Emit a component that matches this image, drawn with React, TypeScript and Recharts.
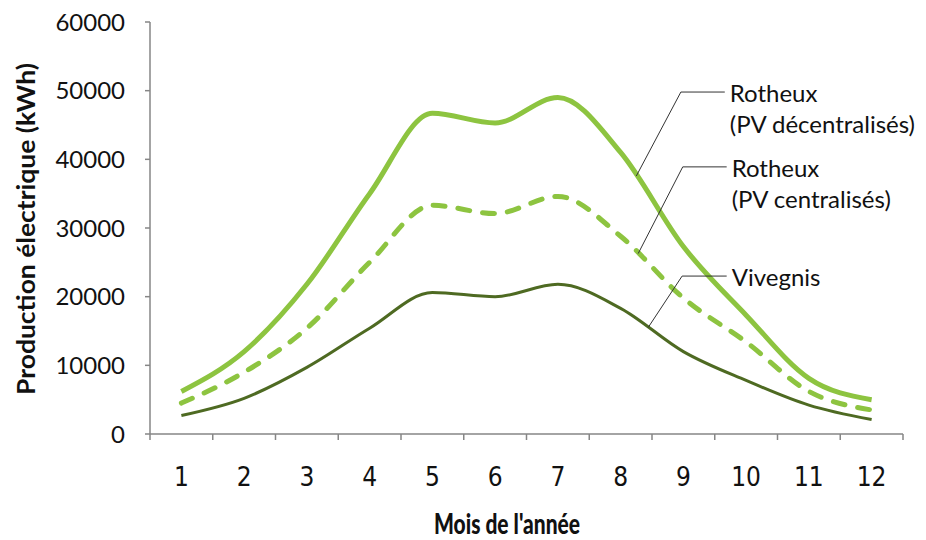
import { ComposedChart, Label, Line, ReferenceLine, XAxis, YAxis } from "recharts";

// Monthly electricity production (kWh)
const months = [1, 2, 3, 4, 5, 6, 7, 8, 9, 10, 11, 12];
const rotheuxDecentralises = [6200, 12000, 21800, 35000, 46700, 45300, 49000, 41000, 27300, 17300, 8100, 5000];
const rotheuxCentralises = [4500, 9000, 15400, 25000, 33300, 32100, 34600, 28800, 19800, 13400, 6200, 3500];
const vivegnis = [2700, 5200, 9700, 15400, 20600, 20000, 21800, 18300, 12000, 7800, 4200, 2100];
const yTicks = [0, 10000, 20000, 30000, 40000, 50000, 60000];

const data = months.map((month, i) => ({
  month,
  decentralises: rotheuxDecentralises[i],
  centralises: rotheuxCentralises[i],
  vivegnis: vivegnis[i],
}));

// x ticks: month labels at integers, separators at half months
const xTicks = [0.5, ...months.flatMap((m) => [m, m + 0.5])];

// callouts: label text, where the leader meets the curve, elbow and label row
const callouts = [
  { lines: ["Rotheux", "(PV décentralisés)"], series: rotheuxDecentralises, tip: 8.25, elbow: 8.96, end: 9.66, row: 49800 },
  { lines: ["Rotheux", "(PV centralisés)"], series: rotheuxCentralises, tip: 8.28, elbow: 8.99, end: 9.69, row: 38900 },
  { lines: ["Vivegnis"], series: vivegnis, tip: 8.44, elbow: 8.98, end: 9.69, row: 23000 },
];

const valueAt = (series: number[], m: number) => {
  const i = Math.floor(m) - 1;
  const t = m - Math.floor(m);
  return series[i] + (series[i + 1] - series[i]) * t;
};

const AXIS = "#868686";
const LIGHT = "#8dc440";
const DARK = "#4e6a22";
const FONT = "Lato, 'Open Sans', sans-serif";
const NARROW = "'Liberation Sans Narrow', 'DejaVu Sans Condensed', sans-serif";

function MonthTick({ x, y, payload }: any) {
  const v = payload.value as number;
  if (Number.isInteger(v)) {
    return (
      <text x={x} y={y + 52} textAnchor="middle" fontSize={26} fontFamily={NARROW} fill="#111">
        {v}
      </text>
    );
  }
  return <line x1={x} x2={x} y1={y} y2={y + 6} stroke={AXIS} strokeWidth={1.5} />;
}

function CalloutText({ viewBox, lines }: any) {
  const x = viewBox.x + viewBox.width + 5;
  return (
    <text x={x} y={viewBox.y + 10} fontSize={24} fontFamily={FONT} fill="#111">
      {lines.map((l: string, i: number) => (
        <tspan key={i} x={x} dy={i === 0 ? 0 : 31}>
          {l}
        </tspan>
      ))}
    </text>
  );
}

export default function App() {
  return (
    <div style={{ position: "absolute", left: 0, top: 0, background: "#fff" }}>
      <ComposedChart width={926} height={540} data={data} margin={{ top: 22, right: 23, left: 0, bottom: 0 }}>
        <XAxis
          dataKey="month"
          type="number"
          domain={[0.5, 12.5]}
          ticks={xTicks}
          interval={0}
          height={106}
          tickSize={0}
          tickMargin={0}
          tickLine={false}
          axisLine={{ stroke: AXIS, strokeWidth: 1.5 }}
          tick={<MonthTick />}
        >
          <Label
            content={() => (
              <text
                x={507}
                y={534}
                textAnchor="middle"
                fontSize={28}
                fontWeight={900}
                fontFamily={FONT}
                textLength={146}
                lengthAdjust="spacingAndGlyphs"
                fill="#111"
              >
                Mois de l'année
              </text>
            )}
          />
        </XAxis>
        <YAxis
          type="number"
          domain={[0, 60000]}
          ticks={yTicks}
          width={150}
          tickSize={5}
          tickMargin={20}
          tick={{ fontSize: 24, fontFamily: FONT, fill: "#111" }}
          tickLine={{ stroke: AXIS, strokeWidth: 1.5 }}
          axisLine={{ stroke: AXIS, strokeWidth: 1.5 }}
        >
          <Label
            content={() => (
              <text
                x={35}
                y={229}
                transform="rotate(-90 35 229)"
                textAnchor="middle"
                fontSize={25}
                fontWeight="bold"
                fontFamily={FONT}
                textLength={332}
                lengthAdjust="spacingAndGlyphs"
                fill="#111"
              >
                Production électrique (kWh)
              </text>
            )}
          />
        </YAxis>
        <Line
          type="monotone"
          dataKey="decentralises"
          stroke={LIGHT}
          strokeWidth={5}
          dot={false}
          activeDot={false}
          isAnimationActive={false}
        />
        <Line
          type="monotone"
          dataKey="centralises"
          stroke={LIGHT}
          strokeWidth={5}
          strokeDasharray="12 13"
          strokeLinecap="round"
          dot={false}
          activeDot={false}
          isAnimationActive={false}
        />
        <Line
          type="monotone"
          dataKey="vivegnis"
          stroke={DARK}
          strokeWidth={3}
          dot={false}
          activeDot={false}
          isAnimationActive={false}
        />
        {callouts.map((c, i) => (
          <ReferenceLine
            key={`h${i}`}
            segment={[
              { x: c.elbow, y: c.row },
              { x: c.end, y: c.row },
            ]}
            stroke="#333"
            strokeWidth={1}
            label={(props: any) => <CalloutText {...props} lines={c.lines} />}
          />
        ))}
        {callouts.map((c, i) => (
          <ReferenceLine
            key={`d${i}`}
            segment={[
              { x: c.tip, y: valueAt(c.series, c.tip) },
              { x: c.elbow, y: c.row },
            ]}
            stroke="#333"
            strokeWidth={1}
          />
        ))}
      </ComposedChart>
    </div>
  );
}
